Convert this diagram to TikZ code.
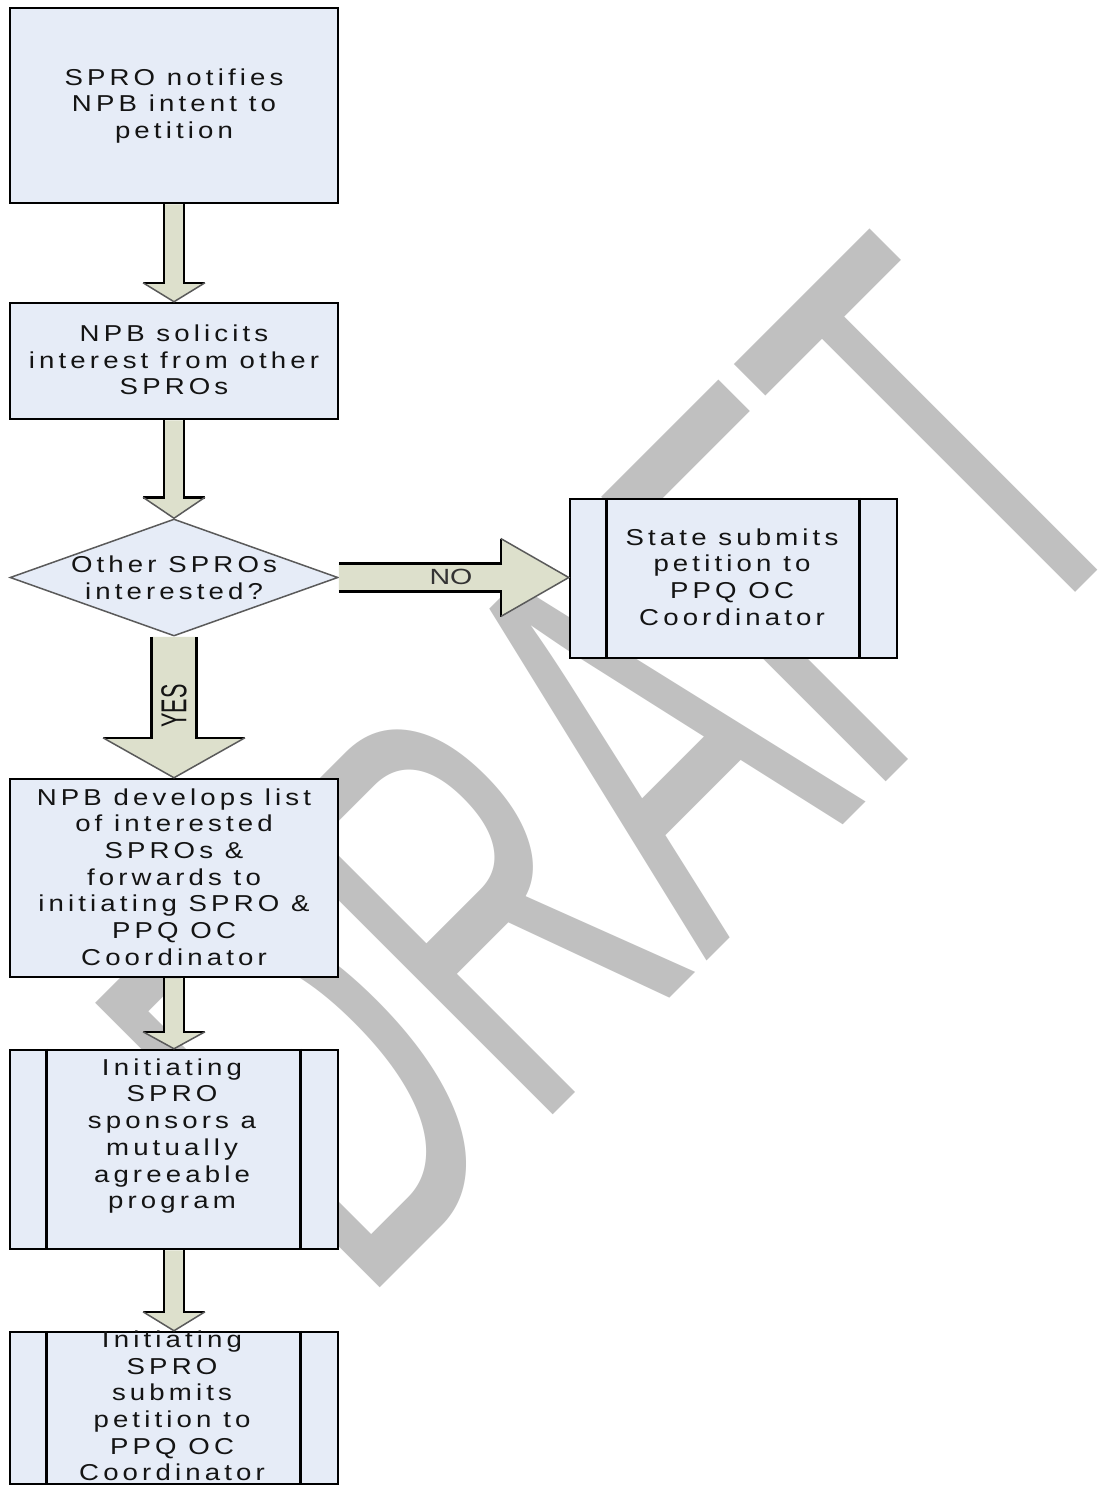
\documentclass[tikz,border=0pt]{standalone}
\usepackage{fontspec}
\setmainfont{Liberation Sans}
\newfontfamily\boxfont[LetterSpace=18,FakeStretch=1.2]{Liberation Sans}
\newfontfamily\lblfont[FakeStretch=1.3]{Liberation Sans}
\newfontfamily\wmfont{Liberation Sans}
\usetikzlibrary{calc,shapes.geometric}
\definecolor{boxfill}{RGB}{230,236,247}
\definecolor{arrfill}{RGB}{221,224,204}
\definecolor{wmgray}{RGB}{192,192,192}
\definecolor{headline}{RGB}{90,90,90}
\newcommand\blockdown[5]{%
  \fill[arrfill] ($(#1)+(-#3,0)$) -- ($(#2)+(-#3,-#5)$) -- ($(#2)+(-#4,-#5)$) -- (#2)
     -- ($(#2)+(#4,-#5)$) -- ($(#2)+(#3,-#5)$) -- ($(#1)+(#3,0)$) -- cycle;
  \draw[arrside] ($(#1)+(-#3,0)$) -- ($(#2)+(-#3,-#5)$) -- ($(#2)+(-#4,-#5)$);
  \draw[arrside] ($(#1)+(#3,0)$) -- ($(#2)+(#3,-#5)$) -- ($(#2)+(#4,-#5)$);
  \draw[arrhead] ($(#2)+(-#4,-#5)$) -- (#2) -- ($(#2)+(#4,-#5)$);
}
\newcommand\blockright[5]{%
  \fill[arrfill] ($(#1)+(0,-#3)$) -- ($(#2)+(-#5,-#3)$) -- ($(#2)+(-#5,-#4)$) -- (#2)
     -- ($(#2)+(-#5,#4)$) -- ($(#2)+(-#5,#3)$) -- ($(#1)+(0,#3)$) -- cycle;
  \draw[arrside] ($(#1)+(0,-#3)$) -- ($(#2)+(-#5,-#3)$) -- ($(#2)+(-#5,-#4)$);
  \draw[arrside] ($(#1)+(0,#3)$) -- ($(#2)+(-#5,#3)$) -- ($(#2)+(-#5,#4)$);
  \draw[arrhead] ($(#2)+(-#5,-#4)$) -- (#2) -- ($(#2)+(-#5,#4)$);
}
\begin{document}
\begin{tikzpicture}[x=1pt,y=-1pt,
  box/.style={draw=black, line width=2.5pt, fill=boxfill, rectangle, inner sep=0pt},
  txt/.style={align=center, inner sep=0pt, text=black!92,
    font=\boxfont\fontsize{23}{26.7}\selectfont},
  arrside/.style={draw=black, line width=2.5pt, line join=miter},
  arrhead/.style={draw=headline, line width=1.5pt, line join=miter}]
\fill[white] (0,0) rectangle (1108,1486);
\useasboundingbox (0,0) rectangle (1108,1486);

% watermark
\node[rotate=45, anchor=base east, inner sep=0pt, text=wmgray,
      font=\wmfont\fontsize{585}{585}\selectfont] (wmark) at (1160,508)
      {\scalebox{0.58}[1]{DRAFT}};

% boxes
\node[box, minimum width=328, minimum height=195] (b1) at (174,105.5) {};
\node[box, minimum width=328, minimum height=116] (b2) at (174,361) {};
\node[diamond, draw=headline, line width=1.5pt, fill=boxfill, inner sep=0pt,
      minimum width=328, minimum height=117] (dec) at (174,577.5) {};
\node[box, minimum width=327, minimum height=159] (st) at (733.5,578.5) {};
\node[box, minimum width=328, minimum height=198] (b4) at (174,878) {};
\node[box, minimum width=328, minimum height=199] (b5) at (174,1149.5) {};
\node[box, minimum width=328, minimum height=152] (b6) at (174,1408) {};

% predefined-process inner lines
\foreach \n in {st,b5,b6}{
  \draw[line width=2.5pt] ($(\n.north west)+(37.5,0)$) -- ($(\n.south west)+(37.5,0)$);
  \draw[line width=2.5pt] ($(\n.north east)+(-39,0)$) -- ($(\n.south east)+(-39,0)$);
}

% texts
\node[txt] (t1) at (174,106) {SPRO notifies\\NPB intent to\\petition};
\node[txt] (t2) at (174,360) {NPB solicits\\interest from other\\SPROs};
\node[txt] (t3) at (174,578) {Other SPROs\\interested?};
\node[txt] (t4) at (732,577) {State submits\\petition to\\PPQ OC\\Coordinator};
\node[txt] (t5) at (174,877) {NPB develops list\\of interested\\SPROs \&\\forwards to\\initiating SPRO \&\\PPQ OC\\Coordinator};
\node[txt] (t6) at (172,1136) {Initiating\\SPRO\\sponsors a\\mutually\\agreeable\\program};
\node[txt] (t7) at (172,1406) {Initiating\\SPRO\\submits\\petition to\\PPQ OC\\Coordinator};

% arrows
\blockdown{b1.south}{b2.north}{10}{31}{19}
\blockdown{b2.south}{dec.north}{10}{31}{21}
\blockdown{dec.south}{b4.north}{22.5}{71}{40}
\blockdown{b4.south}{b5.north}{10}{31}{17}
\blockdown{b5.south}{b6.north}{10}{31}{19}
\coordinate (notip) at (st.west |- dec.east);
\blockright{dec.east}{notip}{14}{39}{68}

% arrow labels
\node[txt, text=black!80, font=\lblfont\fontsize{22}{22}\selectfont] (nolbl) at (451,577) {NO};
\node[txt, rotate=90, font=\wmfont\fontsize{36}{36}\selectfont] (yeslbl) at (174,706)
   {\scalebox{0.6}[1]{YES}};
\end{tikzpicture}
\end{document}
